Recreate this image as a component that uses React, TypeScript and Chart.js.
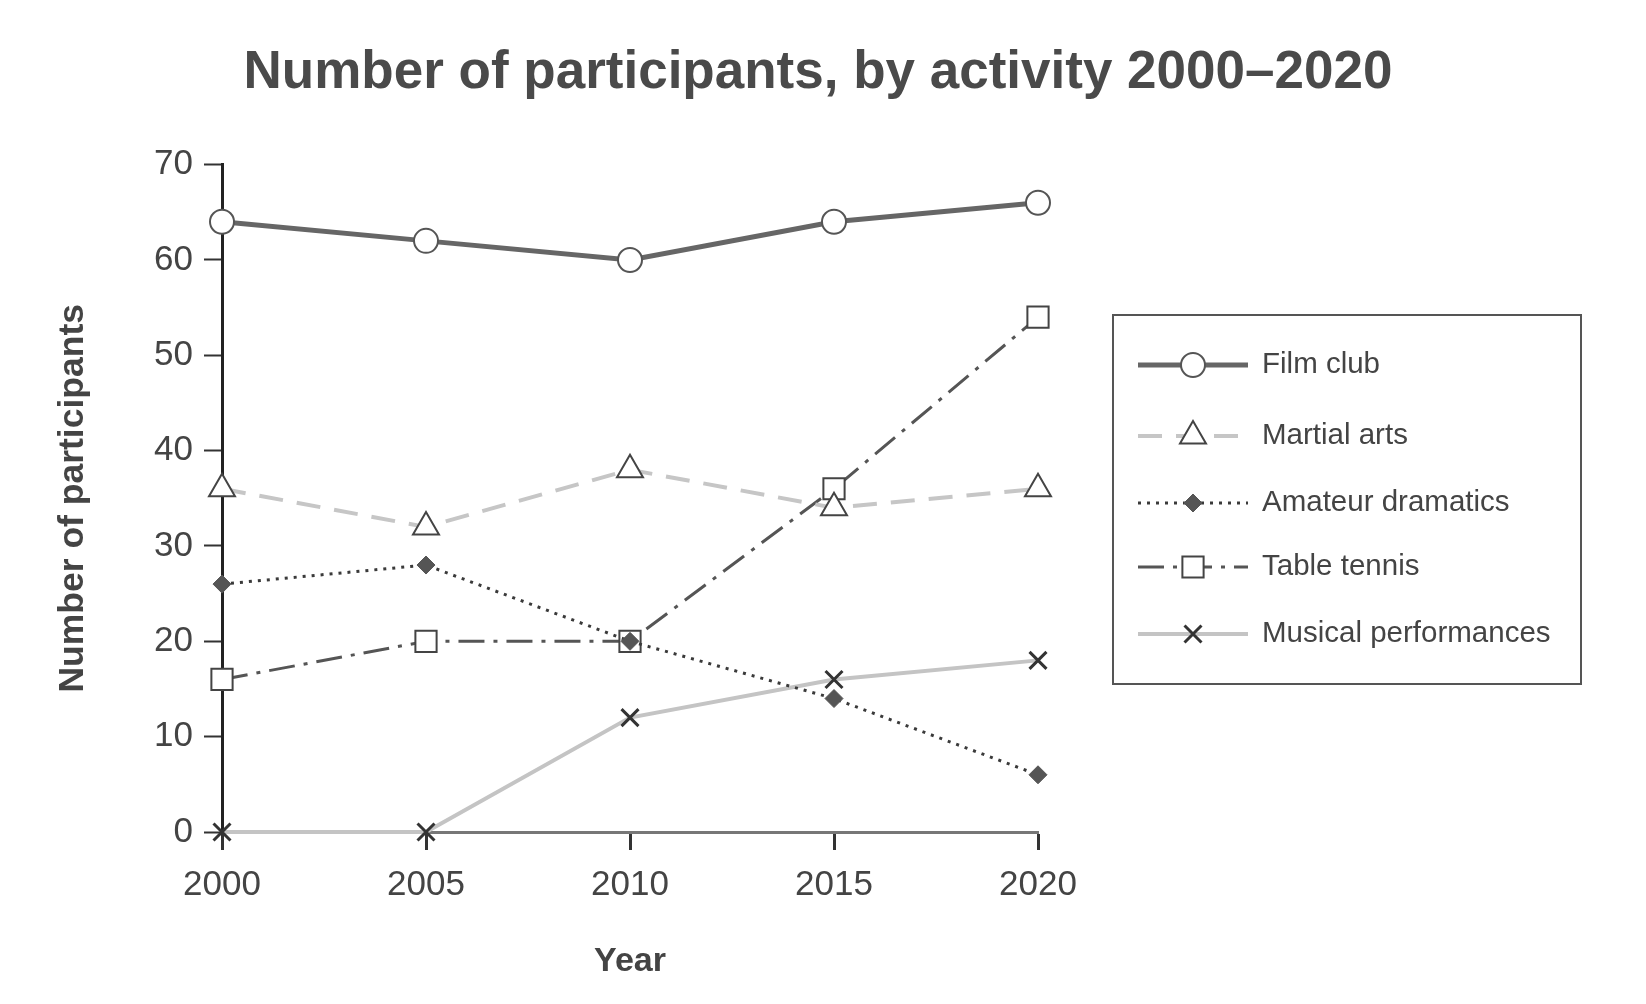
import React, { useEffect, useRef } from "react";
import { Chart, ChartConfiguration, Plugin, registerables } from "chart.js";
import { drawPoint } from "chart.js/helpers";

Chart.register(...registerables);

// data
const years = ["2000", "2005", "2010", "2015", "2020"];
const filmClub = [64, 62, 60, 64, 66];
const martialArts = [36, 32, 38, 34, 36];
const amateurDramatics = [26, 28, 20, 14, 6];
const tableTennis = [16, 20, 20, 36, 54];
const musicalPerformances = [0, 0, 12, 16, 18];
const seriesNames = ["Film club", "Martial arts", "Amateur dramatics", "Table tennis", "Musical performances"];
const yMin = 0;
const yMax = 70;
const yStep = 10;

const FONT = "'Liberation Sans', Arial, sans-serif";

// boxed legend on the right, with line + marker samples
const boxLegend: Plugin = {
    id: "boxLegend",
    afterDraw(chart) {
        const ctx = chart.ctx;
        const rows = [365, 436, 503, 567, 634];
        ctx.save();
        ctx.lineWidth = 2;
        ctx.strokeStyle = "#555";
        ctx.strokeRect(1113, 315, 468, 369);
        chart.data.datasets.forEach((ds: any, i: number) => {
            const y = rows[i];
            ctx.save();
            ctx.strokeStyle = ds.borderColor;
            ctx.lineWidth = ds.borderWidth;
            ctx.setLineDash(ds.borderDash || []);
            ctx.beginPath();
            ctx.moveTo(1138, y);
            ctx.lineTo(1248, y);
            ctx.stroke();
            ctx.setLineDash([]);
            ctx.fillStyle = ds.pointBackgroundColor;
            ctx.strokeStyle = ds.pointBorderColor;
            ctx.lineWidth = ds.pointBorderWidth;
            drawPoint(ctx, { pointStyle: ds.pointStyle, radius: ds.pointRadius, borderWidth: ds.pointBorderWidth, rotation: 0 } as any, 1193, y);
            ctx.restore();
            ctx.fillStyle = "#444";
            ctx.font = `29.5px ${FONT}`;
            ctx.textBaseline = "middle";
            ctx.textAlign = "left";
            ctx.fillText(ds.label, 1262, y);
        });
        ctx.restore();
    },
};

const App: React.FC = () => {
    const chartRef = useRef<HTMLCanvasElement>(null);
    const chartInstance = useRef<Chart | null>(null);

    useEffect(() => {
        if (!chartRef.current) return;
        const ctx = chartRef.current.getContext("2d");
        if (!ctx) return;
        if (chartInstance.current) chartInstance.current.destroy();

        Chart.defaults.font.family = FONT;
        Chart.defaults.color = "#444";

        const config: ChartConfiguration<"line"> = {
            type: "line",
            data: {
                labels: years,
                datasets: [
                    {
                        label: seriesNames[0],
                        data: filmClub,
                        borderColor: "#666",
                        borderWidth: 5,
                        pointStyle: "circle",
                        pointRadius: 12,
                        pointBackgroundColor: "#fff",
                        pointBorderColor: "#555",
                        pointBorderWidth: 2,
                        clip: false,
                    },
                    {
                        label: seriesNames[1],
                        data: martialArts,
                        borderColor: "#c6c6c6",
                        borderWidth: 4,
                        borderDash: [24, 14],
                        pointStyle: "triangle",
                        pointRadius: 15,
                        pointBackgroundColor: "#fff",
                        pointBorderColor: "#444",
                        pointBorderWidth: 2,
                        clip: false,
                    },
                    {
                        label: seriesNames[2],
                        data: amateurDramatics,
                        borderColor: "#3a3a3a",
                        borderWidth: 3,
                        borderDash: [3, 6],
                        pointStyle: "rectRot",
                        pointRadius: 9,
                        pointBackgroundColor: "#555",
                        pointBorderColor: "#555",
                        pointBorderWidth: 1,
                        clip: false,
                    },
                    {
                        label: seriesNames[3],
                        data: tableTennis,
                        borderColor: "#555",
                        borderWidth: 3,
                        borderDash: [26, 9, 4, 9],
                        pointStyle: "rect",
                        pointRadius: 15,
                        pointBackgroundColor: "#fff",
                        pointBorderColor: "#444",
                        pointBorderWidth: 2,
                        clip: false,
                    },
                    {
                        label: seriesNames[4],
                        data: musicalPerformances,
                        borderColor: "#c4c4c4",
                        borderWidth: 4,
                        pointStyle: "crossRot",
                        pointRadius: 12,
                        pointBackgroundColor: "#333",
                        pointBorderColor: "#333",
                        pointBorderWidth: 3,
                        clip: false,
                    },
                ],
            },
            options: {
                responsive: true,
                maintainAspectRatio: false,
                animation: false,
                layout: { padding: { left: 0, right: 10, top: 0, bottom: 0 } },
                elements: { line: { tension: 0 } },
                scales: {
                    x: {
                        type: "category",
                        offset: false,
                        grid: { display: true, drawOnChartArea: false, drawTicks: true, tickLength: 18, tickWidth: 3, tickColor: "#333" },
                        border: { display: true, color: "#777", width: 3 },
                        ticks: { font: { size: 35 }, color: "#444", padding: 14, maxRotation: 0 },
                        title: { display: true, text: "Year", font: { size: 34, weight: "bold" }, color: "#444", padding: { top: 0, bottom: 22 } },
                        afterFit: (scale) => {
                            scale.height = 172;
                        },
                    },
                    y: {
                        min: yMin,
                        max: yMax,
                        grid: { display: true, drawOnChartArea: false, drawTicks: true, tickLength: 18, tickWidth: 2, tickColor: "#333" },
                        border: { display: true, color: "#222", width: 3 },
                        ticks: { stepSize: yStep, font: { size: 35 }, color: "#444", padding: 11 },
                        title: { display: true, text: "Number of participants", font: { size: 35.5, weight: "bold" }, color: "#444", padding: { top: 52, bottom: 0 } },
                        afterFit: (scale) => {
                            scale.width = 222;
                        },
                    },
                    // empty axis that reserves room for the legend box
                    spacer: {
                        type: "linear",
                        position: "right",
                        display: true,
                        grid: { display: false },
                        border: { display: false },
                        ticks: { display: false },
                        afterFit: (scale) => {
                            scale.width = 598;
                        },
                    },
                },
                plugins: {
                    legend: { display: false },
                    tooltip: { enabled: false },
                    title: {
                        display: true,
                        text: "Number of participants, by activity 2000\u20132020",
                        font: { size: 53, weight: "bold" },
                        color: "#4a4a4a",
                        padding: { top: 42, bottom: 59 },
                    },
                },
            },
            plugins: [boxLegend],
        };

        chartInstance.current = new Chart(ctx, config);

        return () => {
            if (chartInstance.current) {
                chartInstance.current.destroy();
                chartInstance.current = null;
            }
        };
    }, []);

    return (
        <div style={{ position: "fixed", left: 0, top: 0, width: 1646, height: 1004, background: "#fff" }}>
            <canvas ref={chartRef} />
        </div>
    );
};

export default App;
